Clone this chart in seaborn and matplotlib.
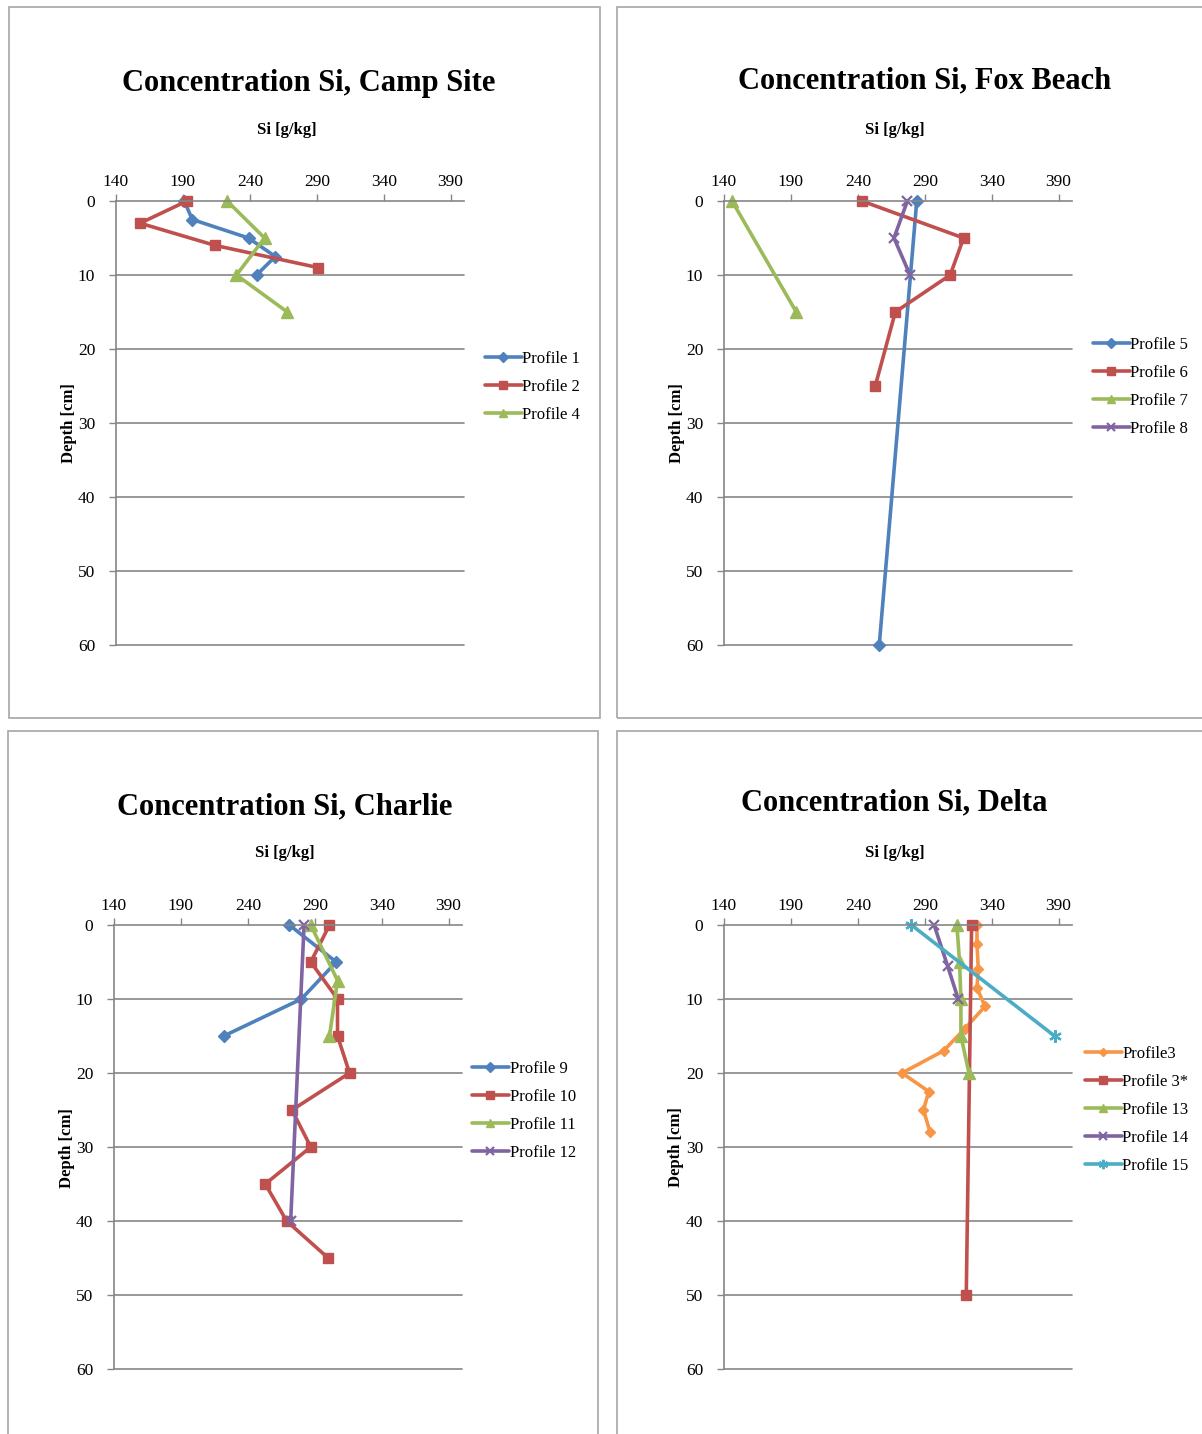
import matplotlib
matplotlib.use("Agg")
import matplotlib.pyplot as plt
import seaborn as sns
import pandas as pd
from matplotlib.patches import Rectangle

sns.set_theme(style="white")
plt.rcParams["font.family"] = ["Liberation Serif", "DejaVu Serif"]
plt.rcParams["text.color"] = "black"
plt.rcParams["xtick.color"] = "black"
plt.rcParams["ytick.color"] = "black"

# ---- Camp Site ----
p1_si = [191, 197, 239, 259, 245]
p1_depth = [0, 2.5, 5, 7.5, 10]
p2_si = [193, 158, 214, 291]
p2_depth = [0, 3, 6, 9]
p4_si = [223, 251, 230, 268]
p4_depth = [0, 5, 10, 15]

# ---- Fox Beach ----
p5_si = [284, 256]
p5_depth = [0, 60]
p6_si = [243, 319, 309, 268, 253]
p6_depth = [0, 5, 10, 15, 25]
p7_si = [146, 194]
p7_depth = [0, 15]
p8_si = [277, 267, 279]
p8_depth = [0, 5, 10]

# ---- Charlie ----
p9_si = [271, 306, 280, 222]
p9_depth = [0, 5, 10, 15]
p10_si = [301, 287, 307, 307, 316, 273, 287, 253, 269, 300]
p10_depth = [0, 5, 10, 15, 20, 25, 30, 35, 40, 45]
p11_si = [287, 307, 301]
p11_depth = [0, 7.5, 15]
p12_si = [282, 272]
p12_depth = [0, 40]

# ---- Delta ----
p3_si = [329, 329, 330, 329, 335, 320, 304, 273, 293, 289, 294]
p3_depth = [0, 2.5, 6, 8.5, 11, 14, 17, 20, 22.5, 25, 28]
p3s_si = [325, 321]
p3s_depth = [0, 50]
p13_si = [314, 316, 317, 317, 323]
p13_depth = [0, 5, 10, 15, 20]
p14_si = [297, 307, 315]
p14_depth = [0, 5.5, 10]
p15_si = [280, 387]
p15_depth = [0, 15]

x_ticks = [140, 190, 240, 290, 340, 390]
y_ticks = [0, 10, 20, 30, 40, 50, 60]

BLUE, RED, GREEN, PURPLE, CYAN, ORANGE = (
    "#4F81BD", "#C0504D", "#9BBB59", "#8064A2", "#4BACC6", "#F79646")
AXIS_GREY = "#868686"

# marker specs: (marker, size, edge width)
DIAMOND = ("D", 6.5, 1)
SQUARE = ("s", 7, 1)
TRIANGLE = ("^", 8, 1)
CROSS = ("x", 7, 1.6)
STAR = ((6, 2, 0), 9, 1.6)
SMALL_D = ("D", 5, 1)

W, H = 1202, 1434
fig = plt.figure(figsize=(W / 100, H / 100), dpi=100)


def fx(px):
    return px / W


def fy(py):
    return 1 - py / H


panels = [
    dict(title="Concentration Si, Camp Site", frame=(9, 7, 600, 718),
         area=(116, 201, 464, 645), title_xy=(309, 84), xlabel_xy=(287, 130),
         ylabel_xy=(69, 423), legend_xy=(485, 387),
         series=[("Profile 1", p1_si, p1_depth, BLUE, DIAMOND),
                 ("Profile 2", p2_si, p2_depth, RED, SQUARE),
                 ("Profile 4", p4_si, p4_depth, GREEN, TRIANGLE)]),
    dict(title="Concentration Si, Fox Beach", frame=(617, 7, 1210, 718),
         area=(724, 201, 1072, 645), title_xy=(925, 81), xlabel_xy=(895, 130),
         ylabel_xy=(677, 423), legend_xy=(1093, 387),
         series=[("Profile 5", p5_si, p5_depth, BLUE, DIAMOND),
                 ("Profile 6", p6_si, p6_depth, RED, SQUARE),
                 ("Profile 7", p7_si, p7_depth, GREEN, TRIANGLE),
                 ("Profile 8", p8_si, p8_depth, PURPLE, CROSS)]),
    dict(title="Concentration Si, Charlie", frame=(8, 731, 598, 1445),
         area=(114, 925, 462, 1369), title_xy=(285, 807), xlabel_xy=(285, 853),
         ylabel_xy=(67, 1148), legend_xy=(472, 1111),
         series=[("Profile 9", p9_si, p9_depth, BLUE, DIAMOND),
                 ("Profile 10", p10_si, p10_depth, RED, SQUARE),
                 ("Profile 11", p11_si, p11_depth, GREEN, TRIANGLE),
                 ("Profile 12", p12_si, p12_depth, PURPLE, CROSS)]),
    dict(title="Concentration Si, Delta", frame=(617, 731, 1210, 1445),
         area=(724, 925, 1072, 1369), title_xy=(894, 803), xlabel_xy=(895, 853),
         ylabel_xy=(676, 1147), legend_xy=(1085, 1110),
         series=[("Profile3", p3_si, p3_depth, ORANGE, SMALL_D),
                 ("Profile 3*", p3s_si, p3s_depth, RED, SQUARE),
                 ("Profile 13", p13_si, p13_depth, GREEN, TRIANGLE),
                 ("Profile 14", p14_si, p14_depth, PURPLE, CROSS),
                 ("Profile 15", p15_si, p15_depth, CYAN, STAR)]),
]

for p in panels:
    x0, y0, x1, y1 = p["frame"]
    fig.patches.append(Rectangle((fx(x0), fy(y1)), fx(x1 - x0), (y1 - y0) / H,
                                 transform=fig.transFigure, fill=False,
                                 edgecolor="#A6A6A6", linewidth=1.2))
    ax_l, ax_t, ax_r, ax_b = p["area"]
    ax = fig.add_axes([fx(ax_l), fy(ax_b), fx(ax_r - ax_l), (ax_b - ax_t) / H])
    ax.set_facecolor("none")

    for label, si, depth, color, (mk, ms, mew) in p["series"]:
        df = pd.DataFrame({"si": si, "depth": depth})
        sns.lineplot(data=df, x="si", y="depth", sort=False, estimator=None,
                     ax=ax, color=color, linewidth=2.6, label=label,
                     marker=mk, markersize=ms, markeredgecolor=color,
                     markerfacecolor=color, markeredgewidth=mew, clip_on=False)

    ax.set_xlim(140, 400)
    ax.set_ylim(60, 0)
    ax.set_xticks(x_ticks)
    ax.set_yticks(y_ticks)
    ax.set_xlabel("")
    ax.set_ylabel("")
    ax.xaxis.tick_top()
    ax.tick_params(axis="x", which="both", direction="out", length=5, width=1,
                   color=AXIS_GREY, labelsize=12.5, pad=3, top=True, bottom=False)
    ax.tick_params(axis="y", which="both", direction="out", length=5, width=1,
                   color=AXIS_GREY, labelsize=12.5, pad=10, left=True)
    for side in ("right", "bottom"):
        ax.spines[side].set_visible(False)
    for side in ("top", "left"):
        ax.spines[side].set_color(AXIS_GREY)
        ax.spines[side].set_linewidth(1.2)
    ax.grid(False)
    for yv in y_ticks[1:]:
        ax.axhline(yv, color=AXIS_GREY, linewidth=1.2, zorder=0, clip_on=False)

    ax.legend(loc="center left",
              bbox_to_anchor=(fx(p["legend_xy"][0]), fy(p["legend_xy"][1])),
              bbox_transform=fig.transFigure, frameon=False, fontsize=12,
              handlelength=2.2, handletextpad=0.05, labelspacing=0.72,
              borderaxespad=0, borderpad=0, markerscale=0.75)

    fig.text(fx(p["title_xy"][0]), fy(p["title_xy"][1]), p["title"],
             ha="center", va="center", fontsize=22, fontweight="bold")
    fig.text(fx(p["xlabel_xy"][0]), fy(p["xlabel_xy"][1]), "Si [g/kg]",
             ha="center", va="center", fontsize=12, fontweight="bold")
    fig.text(fx(p["ylabel_xy"][0]), fy(p["ylabel_xy"][1]), "Depth [cm]",
             ha="center", va="center", fontsize=12, fontweight="bold",
             rotation=90)

fig.savefig("out.png", dpi=100)
